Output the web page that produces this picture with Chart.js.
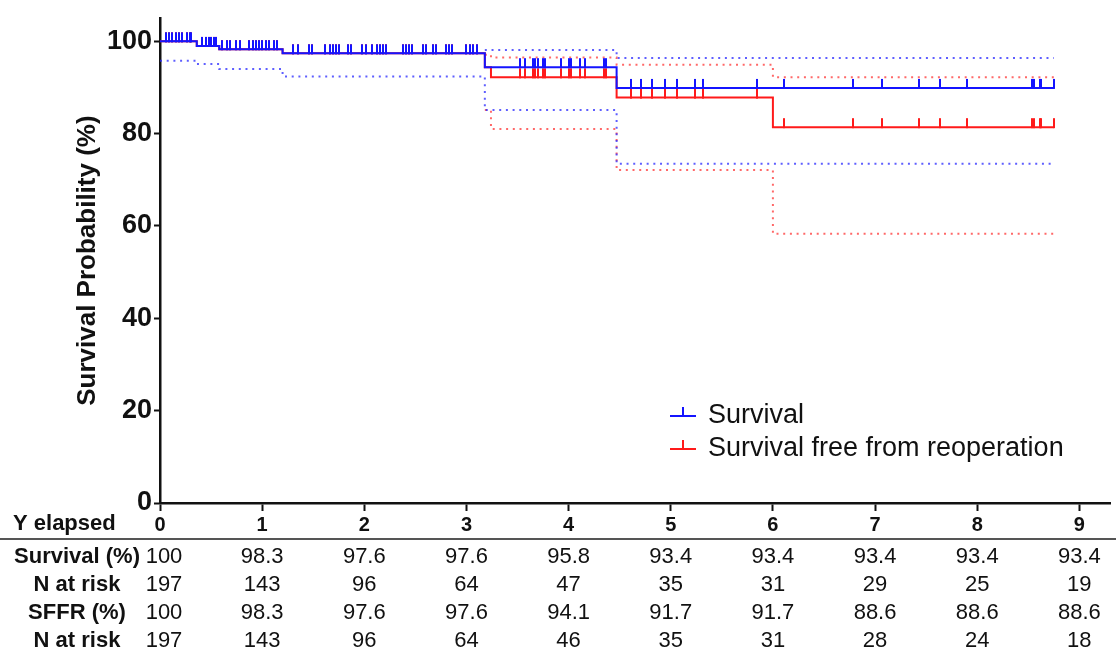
<!DOCTYPE html>
<html>
<head>
<meta charset="utf-8">
<script src="https://cdn.jsdelivr.net/npm/chart.js@4"></script>
<style>
  html, body { margin: 0; padding: 0; background: #fff; }
  #chart { display: block; }
</style>
</head>
<body>
<canvas id="chart" width="1120" height="656"></canvas>
<script>
// Data
const survTimes = [0, 0.36, 0.58, 1.2, 3.18, 4.47, 8.75];
const survValues = [100, 99.0, 98.3, 97.4, 94.4, 89.9, 89.9];

const sffrTimes = [0, 0.36, 0.58, 1.2, 3.18, 3.24, 4.47, 6.0, 8.75];
const sffrValues = [100, 99.0, 98.3, 97.4, 94.4, 92.2, 87.8, 81.4, 81.4];

// 95% CI (dotted)
const survLowTimes = [0, 0.35, 0.58, 1.2, 3.18, 4.47, 8.75];
const survLowValues = [95.8, 95.1, 94.0, 92.4, 85.1, 73.5, 73.5];
const survUpTimes = [3.18, 4.47, 8.75];
const survUpValues = [98.1, 96.4, 96.4];

const sffrLowTimes = [3.18, 3.24, 4.47, 6.0, 8.75];
const sffrLowValues = [85.1, 81.0, 72.1, 58.3, 58.3];
const sffrUpTimes = [3.18, 3.24, 4.47, 6.0, 8.75];
const sffrUpValues = [97.1, 96.5, 94.9, 92.2, 92.2];

// censored observations (years)
const censorTimes = [
  0.06, 0.09, 0.12, 0.16, 0.19, 0.22, 0.26, 0.29, 0.30,
  0.41, 0.45, 0.48, 0.50, 0.53, 0.55,
  0.61, 0.66, 0.69, 0.74, 0.78, 0.87, 0.91, 0.94, 0.97, 1.00, 1.04, 1.07, 1.12, 1.15,
  1.30, 1.35, 1.46, 1.49, 1.62, 1.66, 1.69, 1.72, 1.75, 1.84, 1.87, 1.98, 2.02, 2.08,
  2.12, 2.15, 2.18, 2.21, 2.38, 2.41, 2.44, 2.47, 2.57, 2.60, 2.67, 2.70, 2.80, 2.83,
  2.86, 3.00, 3.03, 3.06, 3.10,
  3.52, 3.57, 3.65, 3.67, 3.70, 3.75, 3.77, 3.93, 4.00, 4.02, 4.11, 4.16, 4.35, 4.37,
  4.61, 4.71, 4.82, 4.94, 5.06, 5.24, 5.32, 5.84,
  6.11, 6.78, 7.07, 7.43, 7.64, 7.90, 8.54, 8.56, 8.61, 8.62, 8.75
];

const xTicks = [0, 1, 2, 3, 4, 5, 6, 7, 8, 9];
const yTicks = [0, 20, 40, 60, 80, 100];

// number-at-risk table
const tableYears = [0, 1, 2, 3, 4, 5, 6, 7, 8, 9];
const survPct = ['100', '98.3', '97.6', '97.6', '95.8', '93.4', '93.4', '93.4', '93.4', '93.4'];
const survRisk = ['197', '143', '96', '64', '47', '35', '31', '29', '25', '19'];
const sffrPct = ['100', '98.3', '97.6', '97.6', '94.1', '91.7', '91.7', '88.6', '88.6', '88.6'];
const sffrRisk = ['197', '143', '96', '64', '46', '35', '31', '28', '24', '18'];

const FONT = 'Arial, "Liberation Sans", Helvetica, sans-serif';
const BLUE = '#1414ff';
const RED = '#ff1a1a';

const toPoints = (times, values) => times.map((t, i) => ({ x: t, y: values[i] }));

function stepAt(times, values, t) {
  let v = values[0];
  for (let i = 0; i < times.length; i++) {
    if (times[i] <= t) v = values[i];
  }
  return v;
}

// small upward tick used for censor marks
function tickMark(color) {
  const c = document.createElement('canvas');
  c.width = 2;
  c.height = 20;
  const g = c.getContext('2d');
  g.fillStyle = color;
  g.fillRect(0, 1, 2, 10);
  return c;
}

function stepLine(label, times, values, color) {
  return {
    label: label,
    data: toPoints(times, values),
    borderColor: color,
    borderWidth: 2,
    stepped: true,
    pointRadius: 0,
    fill: false
  };
}

function ciLine(times, values, color) {
  return {
    data: toPoints(times, values),
    borderColor: color,
    borderWidth: 2,
    borderDash: [2, 4.7],
    stepped: true,
    pointRadius: 0,
    fill: false
  };
}

function censorSet(times, values, color) {
  return {
    data: censorTimes.map(t => ({ x: t, y: stepAt(times, values, t) })),
    showLine: false,
    pointStyle: tickMark(color),
    pointRadius: 5,
    borderColor: color,
    backgroundColor: color
  };
}

// legend, "Y elapsed" and the at-risk table
const extrasPlugin = {
  id: 'extras',
  afterDraw(chart) {
    const ctx = chart.ctx;
    const x = chart.scales.x;
    ctx.save();

    // legend
    const legend = [['Survival', BLUE, 416], ['Survival free from reoperation', RED, 449]];
    legend.forEach(([text, color, y]) => {
      ctx.strokeStyle = color;
      ctx.lineWidth = 2;
      ctx.beginPath();
      ctx.moveTo(670, y);
      ctx.lineTo(696, y);
      ctx.moveTo(683, y);
      ctx.lineTo(683, y - 9);
      ctx.stroke();
      ctx.fillStyle = '#111';
      ctx.font = '27px ' + FONT;
      ctx.textAlign = 'left';
      ctx.textBaseline = 'middle';
      ctx.fillText(text, 708, y);
    });

    // x axis caption
    ctx.fillStyle = '#111';
    ctx.font = 'bold 22px ' + FONT;
    ctx.textAlign = 'left';
    ctx.textBaseline = 'middle';
    ctx.fillText('Y elapsed', 13, 524);

    // separator
    ctx.strokeStyle = '#555';
    ctx.lineWidth = 2;
    ctx.beginPath();
    ctx.moveTo(0, 539);
    ctx.lineTo(1116, 539);
    ctx.stroke();

    // table
    const rows = [
      ['Survival (%)', survPct, 557],
      ['N at risk', survRisk, 585],
      ['SFFR (%)', sffrPct, 613],
      ['N at risk', sffrRisk, 641]
    ];
    rows.forEach(([label, vals, y]) => {
      ctx.font = 'bold 22px ' + FONT;
      ctx.textAlign = 'center';
      ctx.fillText(label, 77, y);
      ctx.font = '22px ' + FONT;
      vals.forEach((v, i) => {
        ctx.fillText(v, x.getPixelForValue(tableYears[i]) + (i === 0 ? 4 : 0), y);
      });
    });
    ctx.restore();
  }
};

new Chart(document.getElementById('chart'), {
  type: 'line',
  data: {
    datasets: [
      stepLine('Survival', survTimes, survValues, BLUE),
      censorSet(survTimes, survValues, BLUE),
      stepLine('Survival free from reoperation', sffrTimes, sffrValues, RED),
      censorSet(sffrTimes, sffrValues, RED),
      ciLine(survUpTimes, survUpValues, 'rgba(40,40,255,0.75)'),
      ciLine(survLowTimes, survLowValues, 'rgba(40,40,255,0.75)'),
      ciLine(sffrUpTimes, sffrUpValues, 'rgba(255,40,40,0.7)'),
      ciLine(sffrLowTimes, sffrLowValues, 'rgba(255,40,40,0.7)')
    ]
  },
  options: {
    responsive: false,
    animation: false,
    devicePixelRatio: 1,
    layout: { padding: { left: 60, top: 11, right: 10, bottom: 123 } },
    plugins: {
      legend: { display: false },
      tooltip: { enabled: false }
    },
    scales: {
      x: {
        type: 'linear',
        min: 0,
        max: 9.3,
        afterBuildTicks: s => { s.ticks = xTicks.map(v => ({ value: v })); },
        afterFit: s => { s.height = 30; },
        grid: { drawOnChartArea: false, drawTicks: true, tickLength: 8, tickWidth: 2, tickColor: '#111' },
        border: { display: true, color: '#111', width: 2.5 },
        ticks: { color: '#111', font: { family: FONT, size: 20, weight: 'bold' }, padding: 2, maxRotation: 0 }
      },
      y: {
        min: 0,
        max: 105,
        afterBuildTicks: s => { s.ticks = yTicks.map(v => ({ value: v })); },
        afterFit: s => { s.width = 100; },
        grid: { drawOnChartArea: false, drawTicks: true, tickLength: 6, tickWidth: 2, tickColor: '#111' },
        border: { display: true, color: '#111', width: 2.5 },
        ticks: { color: '#111', font: { family: FONT, size: 27, weight: 'bold' }, padding: 2 },
        title: {
          display: true,
          text: 'Survival Probability (%)',
          color: '#111',
          font: { family: FONT, size: 26, weight: 'bold' },
          padding: { top: 12, bottom: 0 }
        }
      }
    }
  },
  plugins: [extrasPlugin]
});
</script>
</body>
</html>
